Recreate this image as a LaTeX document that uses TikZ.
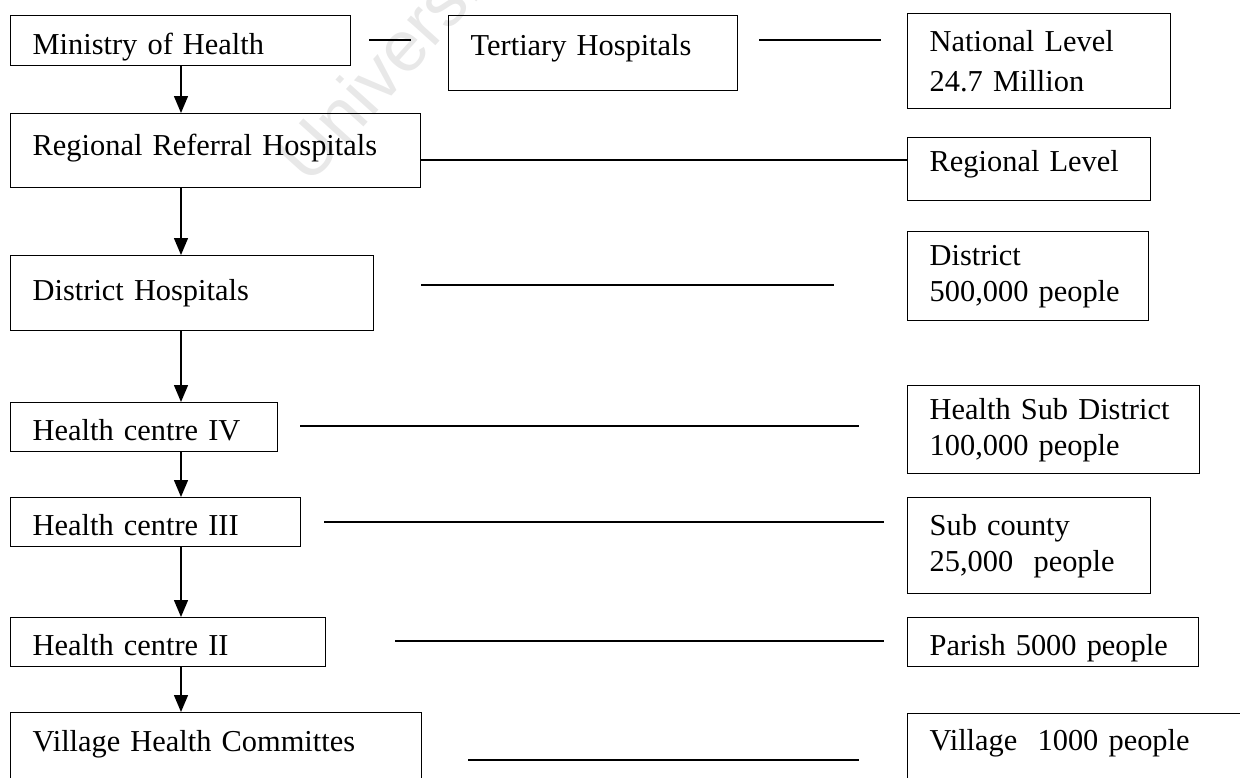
\documentclass[tikz,border=0pt]{standalone}
\usepackage{fontspec}
\setmainfont{Liberation Serif}
\setsansfont{Liberation Sans}
\usetikzlibrary{arrows.meta}
\tikzset{
  box/.style={draw, line width=0.7pt, anchor=north west, align=left, inner xsep=11pt, inner ysep=0pt,
    font=\fontsize{15.2}{18}\selectfont},
  link/.style={line width=0.7pt},
  down/.style={line width=0.7pt, -{Triangle[length=8.5pt,width=7pt]}}
}
\begin{document}
\begin{tikzpicture}[x=0.5pt,y=-0.5pt]
\useasboundingbox (0,0) rectangle (1240,777);
\node[rotate=48, anchor=base west, text=black!9, font=\sffamily\fontsize{36}{36}\selectfont] (wmk) at (305,192) {University};
% left column
\node[box, minimum width=170pt, text width=148pt, text height=19.5pt, text depth=5.5pt] (min) at (10,15) {Ministry of Health};
\node[box, minimum width=205pt, text width=183pt, text height=21pt, text depth=16pt] (reg) at (10,113) {Regional Referral Hospitals};
\node[box, minimum width=181.5pt, text width=159.5pt, text height=22.5pt, text depth=15pt] (dis) at (10,255) {District Hospitals};
\node[box, minimum width=133.5pt, text width=111.5pt, text height=19pt, text depth=5.5pt] (hc4) at (10,402) {Health centre IV};
\node[box, minimum width=145pt, text width=123pt, text height=19pt, text depth=5.5pt] (hc3) at (10,497) {Health centre III};
\node[box, minimum width=157.5pt, text width=135.5pt, text height=19pt, text depth=5.5pt] (hc2) at (10,617) {Health centre II};
\node[box, minimum width=205.5pt, text width=183.5pt, text height=19.5pt, text depth=15.5pt] (vhc) at (10,712) {Village Health Committes};
% middle
\node[box, minimum width=144.5pt, text width=122.5pt, text height=20pt, text depth=17.5pt] (ter) at (448,15) {Tertiary Hospitals};
% right column
\node[box, minimum width=131.5pt, text width=109.5pt, minimum height=47.5pt, font=\fontsize{15.2}{20}\selectfont] (nat) at (907,13) {National Level\\24.7 Million};
\node[box, minimum width=121.5pt, text width=99.5pt, text height=17pt, text depth=14.5pt] (rl) at (907,137) {Regional Level};
\node[box, minimum width=120.5pt, text width=98.5pt, minimum height=44.5pt] (drl) at (907,231) {District\\500,000 people};
\node[box, minimum width=146pt, text width=124pt, minimum height=44pt] (hsd) at (907,385) {Health Sub District\\100,000 people};
\node[box, minimum width=121.5pt, text width=99.5pt, minimum height=48pt] (sc) at (907,497) {Sub county\\25,000\ \ people};
\node[box, minimum width=145.5pt, text width=123.5pt, text height=19pt, text depth=5.5pt] (par) at (907,617) {Parish 5000 people};
\node[box, minimum width=170pt, text width=148pt, text height=18.5pt, text depth=16pt] (vil) at (907,713) {Village\ \ 1000 people};
% arrows down the left column
\coordinate (ax) at (181,0);
\draw[down] (min.south -| ax) -- (reg.north -| ax);
\draw[down] (reg.south -| ax) -- (dis.north -| ax);
\draw[down] (dis.south -| ax) -- (hc4.north -| ax);
\draw[down] (hc4.south -| ax) -- (hc3.north -| ax);
\draw[down] (hc3.south -| ax) -- (hc2.north -| ax);
\draw[down] (hc2.south -| ax) -- (vhc.north -| ax);
% level lines
\coordinate (rlk) at (0,160);
\draw[link] (reg.east |- rlk) -- (rl.west |- rlk);
\coordinate (m1) at (369,40);  \coordinate (m2) at (411,40);
\coordinate (t1) at (759,40);  \coordinate (t2) at (881,40);
\coordinate (d1) at (421,285); \coordinate (d2) at (834,285);
\coordinate (f1) at (300,426); \coordinate (f2) at (859,426);
\coordinate (h1) at (324,522); \coordinate (h2) at (884,522);
\coordinate (p1) at (395,641); \coordinate (p2) at (884,641);
\coordinate (v1) at (468,760); \coordinate (v2) at (859,760);
\draw[link] (m1) -- (m2);
\draw[link] (t1) -- (t2);
\draw[link] (d1) -- (d2);
\draw[link] (f1) -- (f2);
\draw[link] (h1) -- (h2);
\draw[link] (p1) -- (p2);
\draw[link] (v1) -- (v2);
\end{tikzpicture}
\end{document}
